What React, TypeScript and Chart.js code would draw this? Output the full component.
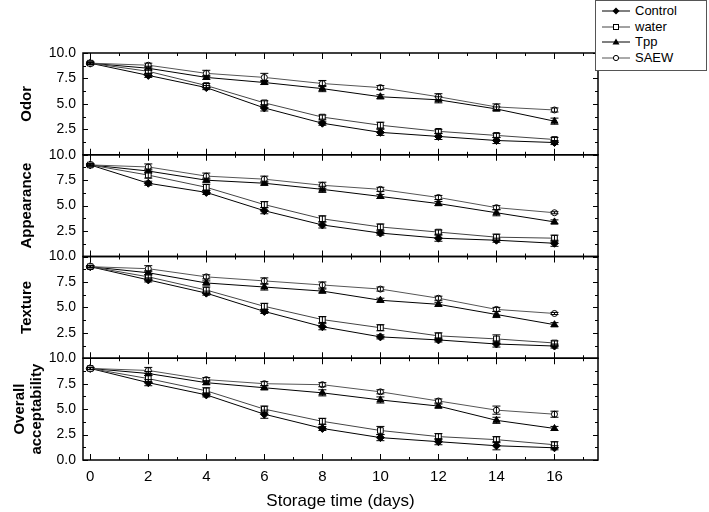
import React, { useEffect, useRef } from 'react';
import { Chart, registerables } from 'chart.js';

Chart.register(...registerables);

const FONT = "Arial, 'Liberation Sans', Helvetica, sans-serif";

const days = [0, 2, 4, 6, 8, 10, 12, 14, 16];
const seriesNames = ['Control', 'water', 'Tpp', 'SAEW'];

// Odor
const odorControl = [9.0, 7.8, 6.6, 4.6, 3.1, 2.2, 1.8, 1.4, 1.2];
const odorWater = [9.0, 8.2, 6.8, 5.1, 3.7, 2.9, 2.3, 1.9, 1.5];
const odorTpp = [9.0, 8.5, 7.6, 7.1, 6.5, 5.7, 5.4, 4.5, 3.3];
const odorSAEW = [9.0, 8.8, 8.0, 7.6, 7.0, 6.6, 5.7, 4.7, 4.4];
const odorControlErr = [0.1, 0.2, 0.2, 0.3, 0.2, 0.3, 0.3, 0.3, 0.2];
const odorWaterErr = [0.1, 0.2, 0.2, 0.2, 0.2, 0.3, 0.2, 0.2, 0.2];
const odorTppErr = [0.1, 0.2, 0.2, 0.2, 0.3, 0.2, 0.3, 0.2, 0.3];
const odorSAEWErr = [0.1, 0.2, 0.3, 0.4, 0.3, 0.2, 0.3, 0.3, 0.2];

// Appearance
const appControl = [9.0, 7.2, 6.3, 4.5, 3.1, 2.3, 1.8, 1.6, 1.3];
const appWater = [9.0, 8.0, 6.8, 5.1, 3.7, 2.9, 2.4, 1.9, 1.8];
const appTpp = [9.0, 8.4, 7.5, 7.2, 6.6, 5.9, 5.2, 4.3, 3.4];
const appSAEW = [9.0, 8.8, 7.9, 7.6, 7.0, 6.6, 5.8, 4.8, 4.3];
const appControlErr = [0.1, 0.2, 0.2, 0.3, 0.3, 0.2, 0.3, 0.2, 0.3];
const appWaterErr = [0.1, 0.3, 0.3, 0.3, 0.3, 0.3, 0.2, 0.3, 0.3];
const appTppErr = [0.1, 0.2, 0.2, 0.2, 0.3, 0.2, 0.2, 0.3, 0.2];
const appSAEWErr = [0.1, 0.3, 0.3, 0.3, 0.3, 0.2, 0.2, 0.2, 0.1];

// Texture
const texControl = [9.0, 7.7, 6.4, 4.6, 3.1, 2.1, 1.8, 1.4, 1.2];
const texWater = [9.0, 8.0, 6.7, 5.1, 3.8, 3.0, 2.2, 1.9, 1.5];
const texTpp = [9.0, 8.4, 7.4, 7.0, 6.6, 5.7, 5.3, 4.3, 3.3];
const texSAEW = [9.0, 8.8, 8.0, 7.6, 7.2, 6.8, 5.9, 4.8, 4.4];
const texControlErr = [0.1, 0.2, 0.2, 0.2, 0.3, 0.2, 0.2, 0.3, 0.2];
const texWaterErr = [0.1, 0.2, 0.3, 0.3, 0.3, 0.3, 0.3, 0.4, 0.2];
const texTppErr = [0.1, 0.2, 0.2, 0.3, 0.2, 0.2, 0.2, 0.3, 0.2];
const texSAEWErr = [0.1, 0.3, 0.2, 0.3, 0.3, 0.2, 0.2, 0.2, 0.1];

// Overall acceptability
const ovControl = [9.0, 7.6, 6.4, 4.5, 3.1, 2.2, 1.8, 1.4, 1.2];
const ovWater = [9.0, 8.0, 6.8, 5.0, 3.8, 2.9, 2.3, 2.0, 1.5];
const ovTpp = [9.0, 8.5, 7.6, 7.1, 6.6, 5.9, 5.3, 3.9, 3.1];
const ovSAEW = [9.0, 8.8, 7.9, 7.5, 7.4, 6.7, 5.8, 4.9, 4.5];
const ovControlErr = [0.1, 0.3, 0.2, 0.4, 0.2, 0.3, 0.3, 0.4, 0.2];
const ovWaterErr = [0.1, 0.3, 0.3, 0.3, 0.3, 0.4, 0.3, 0.3, 0.3];
const ovTppErr = [0.1, 0.2, 0.2, 0.2, 0.3, 0.3, 0.2, 0.3, 0.2];
const ovSAEWErr = [0.1, 0.3, 0.2, 0.2, 0.2, 0.2, 0.2, 0.4, 0.3];

const panelTitles: (string | string[])[] = ['Odor', 'Appearance', 'Texture', ['Overall', 'acceptability']];
const panelValues = [
  [odorControl, odorWater, odorTpp, odorSAEW],
  [appControl, appWater, appTpp, appSAEW],
  [texControl, texWater, texTpp, texSAEW],
  [ovControl, ovWater, ovTpp, ovSAEW],
];
const panelErrors = [
  [odorControlErr, odorWaterErr, odorTppErr, odorSAEWErr],
  [appControlErr, appWaterErr, appTppErr, appSAEWErr],
  [texControlErr, texWaterErr, texTppErr, texSAEWErr],
  [ovControlErr, ovWaterErr, ovTppErr, ovSAEWErr],
];

const yLabelTicks = [2.5, 5, 7.5, 10];
const yLabelTicksBottom = [0, 2.5, 5, 7.5, 10];
const yMarkTicks = [0, 1.25, 2.5, 3.75, 5, 6.25, 7.5, 8.75, 10];
const xMarkTicks = [0, 1, 2, 3, 4, 5, 6, 7, 8, 9, 10, 11, 12, 13, 14, 15, 16, 17];

const seriesStyle = [
  { pointStyle: 'rectRot', radius: 4, fill: '#000', line: '#000', order: 3 },
  { pointStyle: 'rect', radius: 4, fill: '#fff', line: '#444', order: 0 },
  { pointStyle: 'triangle', radius: 4, fill: '#000', line: '#000', order: 2 },
  { pointStyle: 'circle', radius: 3, fill: '#fff', line: '#555', order: 1 },
];

const panelIds = ['yOdor', 'yApp', 'yTex', 'yOv'];

const errorBarPlugin = {
  id: 'errorBars',
  afterDatasetsDraw(chart: any) {
    const ctx = chart.ctx;
    const xs = chart.scales.x;
    ctx.save();
    ctx.strokeStyle = '#000';
    ctx.lineWidth = 1;
    chart.data.datasets.forEach((ds: any) => {
      const ys = chart.scales[ds.yAxisID];
      ds.data.forEach((pt: any, j: number) => {
        const e = ds.errors[j];
        const px = xs.getPixelForValue(pt.x);
        const t = ys.getPixelForValue(pt.y + e);
        const b = ys.getPixelForValue(pt.y - e);
        ctx.beginPath();
        ctx.moveTo(px, t);
        ctx.lineTo(px, b);
        ctx.moveTo(px - 4, t);
        ctx.lineTo(px + 4, t);
        ctx.moveTo(px - 4, b);
        ctx.lineTo(px + 4, b);
        ctx.stroke();
      });
    });
    ctx.restore();
  },
};

const framePlugin = {
  id: 'panelFrames',
  afterDraw(chart: any) {
    const { ctx, chartArea: ca } = chart;
    const xs = chart.scales.x;
    ctx.save();
    ctx.strokeStyle = '#000';
    panelIds.forEach((id) => {
      const ys = chart.scales[id];
      const top = ys.top;
      const bot = ys.bottom;
      ctx.lineWidth = 1.5;
      ctx.strokeRect(ca.left, top, ca.right - ca.left, bot - top);
      ctx.lineWidth = 1;
      ctx.beginPath();
      yMarkTicks.forEach((v) => {
        const py = Math.round(ys.getPixelForValue(v)) + 0.5;
        const major = Math.abs(v / 2.5 - Math.round(v / 2.5)) < 1e-6;
        const len = major ? 5 : 3;
        ctx.moveTo(ca.left, py);
        ctx.lineTo(ca.left + len, py);
        ctx.moveTo(ca.right, py);
        ctx.lineTo(ca.right - len, py);
      });
      xMarkTicks.forEach((d) => {
        const px = Math.round(xs.getPixelForValue(d)) + 0.5;
        const len = d % 2 === 0 ? 6 : 3;
        ctx.moveTo(px, top);
        ctx.lineTo(px, top + len);
        ctx.moveTo(px, bot);
        ctx.lineTo(px, bot - len);
      });
      ctx.stroke();
    });
    ctx.restore();
  },
};

function makeYAxis(index: number) {
  const isBottom = index === 3;
  const title = panelTitles[index];
  const multi = Array.isArray(title);
  return {
    type: 'linear',
    position: 'left',
    stack: 'panels',
    stackWeight: 1,
    min: 0,
    max: 10,
    afterFit: (s: any) => {
      s.width = 75;
    },
    afterBuildTicks: (s: any) => {
      s.ticks = (isBottom ? yLabelTicksBottom : yLabelTicks).map((v) => ({ value: v }));
    },
    ticks: {
      callback: (v: any) => Number(v).toFixed(1),
      font: { size: 14, family: FONT },
      color: '#000',
      padding: 7,
      autoSkip: false,
    },
    grid: { display: false, drawTicks: false },
    border: { display: false },
    title: {
      display: true,
      text: title,
      font: { size: 15, weight: 'bold', family: FONT, lineHeight: 1.1 },
      color: '#000',
      padding: { top: multi ? 4 : 11, bottom: 0 },
    },
  };
}

function LegendSwatch({ idx }: { idx: number }) {
  const st = seriesStyle[idx];
  let marker: any = null;
  if (idx === 0) marker = <polygon points="14,1.5 17.5,5 14,8.5 10.5,5" fill="#000" />;
  if (idx === 1) marker = <rect x={11.5} y={2.5} width={5} height={5} fill="#fff" stroke="#000" strokeWidth={1} />;
  if (idx === 2) marker = <polygon points="14,1.5 17.5,7.5 10.5,7.5" fill="#000" />;
  if (idx === 3) marker = <circle cx={14} cy={5} r={2.6} fill="#fff" stroke="#000" strokeWidth={1} />;
  return (
    <svg width={28} height={10} style={{ display: 'block' }}>
      <line x1={0} y1={5} x2={28} y2={5} stroke={st.line} strokeWidth={1} />
      {marker}
    </svg>
  );
}

export default function App() {
  const ref = useRef<HTMLCanvasElement>(null);

  useEffect(() => {
    const datasets: any[] = [];
    panelValues.forEach((vals, p) => {
      vals.forEach((arr, s) => {
        const st = seriesStyle[s];
        datasets.push({
          label: seriesNames[s],
          yAxisID: panelIds[p],
          order: st.order,
          data: days.map((d, i) => ({ x: d, y: arr[i] })),
          errors: panelErrors[p][s],
          borderColor: st.line,
          borderWidth: 1,
          pointStyle: st.pointStyle,
          pointRadius: st.radius,
          pointBackgroundColor: st.fill,
          pointBorderColor: '#000',
          pointBorderWidth: 1,
          fill: false,
          tension: 0,
        });
      });
    });

    const chart = new Chart(ref.current as HTMLCanvasElement, {
      type: 'line',
      data: { datasets },
      plugins: [errorBarPlugin, framePlugin],
      options: {
        animation: false,
        responsive: false,
        events: [],
        layout: { padding: { left: 8, top: 53, right: 111, bottom: 0 } },
        plugins: {
          legend: { display: false },
          tooltip: { enabled: false },
        },
        scales: {
          x: {
            type: 'linear',
            min: -0.25,
            max: 17.5,
            afterFit: (s: any) => {
              s.height = 52;
            },
            afterBuildTicks: (s: any) => {
              s.ticks = days.map((v) => ({ value: v }));
            },
            ticks: {
              font: { size: 15, family: FONT },
              color: '#000',
              padding: 8,
              maxRotation: 0,
              autoSkip: false,
              callback: (v: any) => String(v),
            },
            grid: { display: false, drawTicks: false },
            border: { display: false },
            title: {
              display: true,
              text: 'Storage time (days)',
              font: { size: 17, family: FONT },
              color: '#000',
              padding: { top: 0, bottom: 0 },
            },
          },
          yOv: makeYAxis(3),
          yTex: makeYAxis(2),
          yApp: makeYAxis(1),
          yOdor: makeYAxis(0),
        } as any,
      } as any,
    });
    return () => chart.destroy();
  }, []);

  return (
    <div style={{ position: 'absolute', left: 0, top: 0, width: 709, height: 512, background: '#fff', overflow: 'hidden' }}>
      <canvas ref={ref} width={709} height={512} style={{ display: 'block', width: 709, height: 512 }} />
      <div
        style={{
          position: 'absolute',
          left: 595,
          top: 0,
          width: 112,
          height: 71,
          border: '1px solid #555',
          background: '#fff',
          fontFamily: FONT,
          fontSize: 13,
          color: '#000',
          boxSizing: 'border-box',
        }}
      >
        {seriesNames.map((name, i) => (
          <div
            key={name}
            style={{ position: 'absolute', left: 6, top: 3 + i * 15.6, height: 14, display: 'flex', alignItems: 'center' }}
          >
            <LegendSwatch idx={i} />
            <span style={{ marginLeft: 5, lineHeight: '14px', whiteSpace: 'nowrap' }}>{name}</span>
          </div>
        ))}
      </div>
    </div>
  );
}
